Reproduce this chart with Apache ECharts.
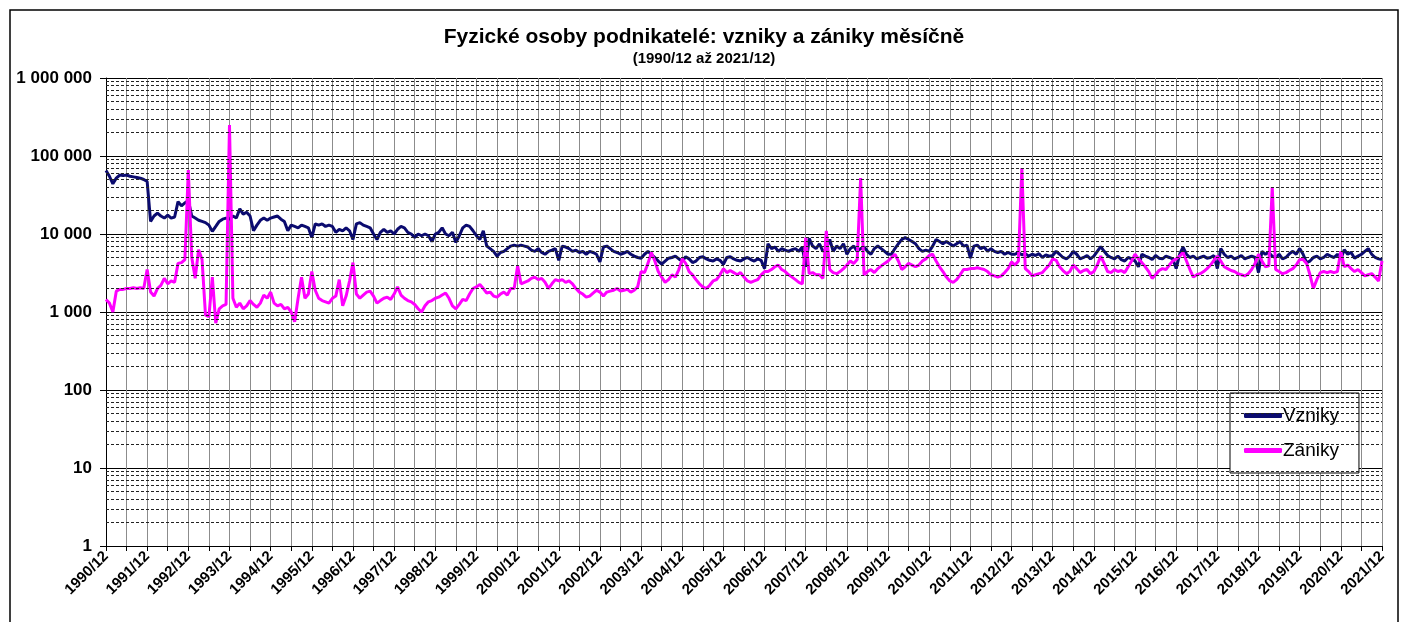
<!DOCTYPE html>
<html lang="cs">
  <head>
    <meta charset="UTF-8" />
    <title>Fyzické osoby podnikatelé: vzniky a zániky měsíčně</title>
    <script src="https://cdn.jsdelivr.net/npm/echarts@6.0.0/dist/echarts.min.js"></script>
    <style>
      html, body { margin: 0; padding: 0; background: #fff; }
    </style>
  </head>
  <body>
    <div id="main" style="width: 1408px; height: 622px"></div>
    <script type="text/javascript">
      // měsíční hodnoty od 1990/12 do 2021/12 (první hodnota = 1990/12, pak řádky po rocích)
      const vzniky = [
        65000,
        55000, 44000, 52000, 57000, 56000, 57000, 55000, 54000, 53000, 52000, 50000, 47000, // 1991
        14500, 17000, 18500, 17000, 16000, 17500, 16000, 16500, 26000, 23000, 25000, 27000, // 1992
        17000, 16000, 15000, 14500, 14000, 13000, 10800, 12500, 14500, 15500, 16000, 15500, // 1993
        17000, 16000, 21000, 18000, 19000, 17000, 11000, 13000, 15000, 16000, 15000, 16000, // 1994
        16500, 17000, 15500, 14500, 11000, 13000, 12500, 12000, 13000, 12500, 12000, 9000, // 1995
        13500, 13000, 13500, 12500, 13000, 12500, 10500, 11500, 11000, 12000, 11000, 8500, // 1996
        13500, 14000, 13000, 12500, 12000, 10000, 8500, 10500, 11500, 10500, 11000, 10000, // 1997
        11500, 12500, 12000, 10500, 10000, 9000, 10000, 9500, 10000, 9500, 8000, 10000, // 1998
        10500, 12000, 10000, 9500, 10500, 7800, 9500, 12000, 13000, 12500, 11000, 9500, // 1999
        8500, 11000, 7000, 6500, 6000, 5200, 5800, 6000, 6500, 7000, 7200, 7000, // 2000
        7200, 7000, 6800, 6200, 6000, 6500, 5800, 5500, 6000, 6200, 6500, 4600, // 2001
        7000, 6800, 6500, 6000, 6200, 5800, 6000, 5500, 6000, 5800, 5500, 4400, // 2002
        6800, 7000, 6500, 6000, 5800, 5500, 5700, 6000, 5500, 5200, 5000, 4900, // 2003
        5500, 6000, 5500, 5000, 4500, 4100, 4500, 4900, 5000, 5200, 4800, 4500, // 2004
        5100, 4800, 4300, 4500, 5000, 5100, 4800, 4600, 4500, 4800, 4600, 4100, // 2005
        5000, 5100, 4800, 4600, 4500, 4800, 5000, 4700, 4500, 4800, 4600, 3600, // 2006
        7500, 6500, 6800, 6000, 6500, 6200, 6000, 6300, 6500, 6000, 6800, 3800, // 2007
        8800, 7000, 6500, 7500, 6000, 6500, 8500, 6000, 7000, 6500, 7500, 5500, // 2008
        6500, 7000, 6000, 6500, 6800, 6000, 5500, 6500, 7000, 6500, 6000, 5500, // 2009
        5500, 6500, 7500, 8500, 9000, 8500, 8000, 7500, 6500, 6000, 6200, 6000, // 2010
        7000, 8500, 8000, 7500, 8000, 7500, 7000, 7500, 8000, 7000, 7200, 4900, // 2011
        7000, 7200, 6500, 6800, 6000, 6500, 6000, 5800, 6000, 5500, 5800, 5500, // 2012
        5500, 5800, 5400, 5600, 5200, 5500, 5300, 5600, 5000, 5400, 5200, 5300, // 2013
        6000, 5500, 5000, 4800, 5200, 6000, 5500, 4800, 5000, 5300, 4800, 5200, // 2014
        6000, 6900, 6000, 5300, 5000, 4800, 5200, 4700, 4500, 5000, 4800, 4500, // 2015
        3800, 5500, 5200, 5000, 4700, 5300, 4900, 4800, 5200, 5000, 4800, 3600, // 2016
        5500, 6800, 5500, 5000, 5200, 4800, 5000, 5200, 4900, 5000, 5300, 3600, // 2017
        6500, 5500, 5000, 5200, 4800, 5000, 5300, 4800, 5000, 5200, 5000, 3200, // 2018
        6000, 5500, 5800, 5200, 5000, 5500, 4800, 5000, 5600, 6000, 5500, 6500, // 2019
        5500, 4300, 4500, 5000, 5200, 4800, 5000, 5500, 5200, 5000, 5500, 4800, // 2020
        6300, 5500, 5800, 4900, 5200, 5500, 6000, 6500, 5500, 5000, 4800, 4700  // 2021
      ];

      const zaniky = [
        1450,
        1300, 1000, 1850, 1950, 1950, 2000, 2000, 2050, 2000, 2050, 2000, 3500, // 1991
        1800, 1600, 2000, 2200, 2700, 2300, 2500, 2400, 4200, 4300, 4700, 66000, // 1992
        5000, 2700, 6300, 4700, 920, 870, 2800, 720, 1100, 1200, 1250, 250000, // 1993
        1500, 1150, 1300, 1100, 1200, 1400, 1250, 1150, 1300, 1650, 1500, 1800, // 1994
        1300, 1200, 1250, 1100, 1150, 1000, 750, 1500, 2800, 1500, 1700, 3300, // 1995
        1900, 1500, 1400, 1350, 1300, 1500, 1600, 2600, 1200, 1600, 2500, 4300, // 1996
        1700, 1500, 1650, 1800, 1850, 1600, 1300, 1400, 1500, 1550, 1450, 1700, // 1997
        2100, 1650, 1500, 1400, 1350, 1250, 1100, 1000, 1200, 1350, 1400, 1500, // 1998
        1550, 1650, 1750, 1500, 1200, 1100, 1250, 1450, 1400, 1700, 2000, 2100, // 1999
        2250, 2000, 1750, 1800, 1600, 1550, 1700, 1800, 1650, 2000, 2000, 3900, // 2000
        2300, 2400, 2500, 2700, 2800, 2600, 2700, 2400, 2000, 2300, 2600, 2500, // 2001
        2600, 2400, 2500, 2300, 2000, 1800, 1700, 1550, 1600, 1750, 1900, 1800, // 2002
        1600, 1800, 1850, 1900, 2000, 1850, 1900, 1950, 1800, 1900, 2100, 3300, // 2003
        3200, 4200, 5800, 4500, 3300, 2800, 2400, 2600, 3000, 2800, 3500, 4800, // 2004
        4200, 3300, 3000, 2600, 2300, 2100, 2000, 2200, 2500, 2600, 3000, 3600, // 2005
        3200, 3400, 3200, 3000, 3200, 2800, 2500, 2400, 2500, 2600, 3000, 3300, // 2006
        3300, 3500, 3800, 4000, 3500, 3300, 3000, 2800, 2600, 2400, 2300, 9000, // 2007
        3100, 3200, 3000, 3000, 2700, 11000, 3500, 3200, 3100, 3300, 3600, 4000, // 2008
        4500, 4200, 4700, 52000, 3000, 3300, 3500, 3200, 3600, 3900, 4200, 4500, // 2009
        5000, 5500, 4500, 3500, 3800, 4200, 4000, 3800, 4000, 4500, 4800, 5300, // 2010
        5500, 4500, 3800, 3300, 2800, 2500, 2400, 2600, 3000, 3500, 3500, 3600, // 2011
        3600, 3700, 3600, 3500, 3300, 3000, 2900, 2800, 2900, 3200, 3600, 4400, // 2012
        4000, 4500, 70000, 3600, 3300, 2900, 3000, 3100, 3200, 3600, 4000, 4800, // 2013
        4600, 3800, 3400, 3100, 3300, 4000, 3600, 3200, 3400, 3500, 3100, 3300, // 2014
        4000, 5200, 4200, 3300, 3200, 3500, 3300, 3400, 3200, 3800, 4500, 5500, // 2015
        4800, 4300, 3800, 3300, 2700, 3000, 3400, 3600, 3500, 4000, 4500, 4800, // 2016
        5200, 5800, 4500, 3500, 2800, 3000, 3100, 3300, 3600, 4000, 4600, 5200, // 2017
        4500, 3800, 3600, 3400, 3300, 3100, 3000, 2900, 3100, 3500, 4200, 5500, // 2018
        4500, 3800, 3900, 40000, 3500, 3300, 3100, 3200, 3400, 3600, 4000, 4700, // 2019
        4700, 4200, 3000, 2000, 2600, 3200, 3300, 3200, 3300, 3200, 3300, 6000, // 2020
        3800, 4000, 3600, 3300, 3500, 3200, 2900, 3000, 3100, 2800, 2500, 4500  // 2021
      ];

      // popisky osy x: 1990/12 ... 2021/12
      const months = [];
      for (let y = 1990; y <= 2021; y++) {
        for (let m = 1; m <= 12; m++) {
          if (y === 1990 && m < 12) continue;
          months.push(y + '/' + String(m).padStart(2, '0'));
        }
      }

      // vedlejší mřížka 2..9 v každé dekádě
      const minorLines = [];
      for (let p = 1; p < 1000000; p *= 10) {
        for (let k = 2; k <= 9; k++) minorLines.push({ yAxis: k * p });
      }

      const chart = echarts.init(document.getElementById('main'), null, {
        width: 1408,
        height: 622,
      });

      const font = 'Liberation Sans, Arial, sans-serif';
      const every = (n) => (idx) => idx % n === 0;

      chart.setOption({
        animation: false,
        backgroundColor: '#fff',
        textStyle: { fontFamily: font },
        title: {
          text: 'Fyzické osoby podnikatelé: vzniky a zániky měsíčně',
          subtext: '(1990/12 až 2021/12)',
          left: 'center',
          top: 22,
          itemGap: 3,
          textStyle: { fontSize: 21, fontWeight: 'bold', color: '#000', fontFamily: font },
          subtextStyle: { fontSize: 15, fontWeight: 'bold', color: '#000', fontFamily: font },
        },
        graphic: [
          {
            type: 'rect',
            shape: { x: 10, y: 10, width: 1388, height: 630 },
            style: { fill: 'none', stroke: '#000', lineWidth: 1.5 },
            silent: true,
          },
        ],
        legend: {
          data: ['Vzniky', 'Zániky'],
          orient: 'vertical',
          left: 1230,
          top: 393,
          padding: [13, 20, 13, 14],
          itemGap: 16,
          itemWidth: 38,
          itemHeight: 5,
          icon: 'roundRect',
          backgroundColor: '#fff',
          borderColor: '#000',
          borderWidth: 1,
          textStyle: { fontSize: 19, color: '#000', fontFamily: font, padding: [0, 0, 0, -4] },
        },
        grid: { left: 106, right: 26, top: 78, bottom: 76, containLabel: false },
        xAxis: {
          type: 'category',
          data: months,
          boundaryGap: false,
          axisLine: { lineStyle: { color: '#000', width: 1 } },
          axisTick: { interval: every(6), length: 5, lineStyle: { color: '#000' } },
          axisLabel: {
            interval: every(12),
            rotate: 45,
            fontSize: 15,
            fontWeight: 'bold',
            color: '#000',
            margin: 8,
            fontFamily: font,
          },
          splitLine: { show: true, interval: every(6), lineStyle: { color: '#8c8c8c', width: 1 } },
        },
        yAxis: {
          type: 'log',
          logBase: 10,
          min: 1,
          max: 1000000,
          splitNumber: 6,
          axisLine: { show: true, lineStyle: { color: '#000' } },
          axisTick: { show: true, length: 6, lineStyle: { color: '#000' } },
          axisLabel: {
            fontSize: 17,
            fontWeight: 'bold',
            color: '#000',
            margin: 14,
            fontFamily: font,
            formatter: (v) => String(Math.round(v)).replace(/\B(?=(\d{3})+(?!\d))/g, ' '),
          },
          splitLine: { show: true, lineStyle: { color: '#000', width: 1 } },
        },
        series: [
          {
            name: 'mrizka',
            type: 'line',
            data: [],
            silent: true,
            z: 1,
            markLine: {
              silent: true,
              symbol: 'none',
              label: { show: false },
              animation: false,
              lineStyle: { color: '#222', width: 1, type: [3, 2] },
              data: minorLines,
            },
          },
          {
            name: 'Vzniky',
            type: 'line',
            data: vzniky,
            showSymbol: false,
            z: 3,
            lineStyle: { color: '#0b0b6f', width: 3 },
            itemStyle: { color: '#0b0b6f' },
          },
          {
            name: 'Zániky',
            type: 'line',
            data: zaniky,
            showSymbol: false,
            z: 4,
            lineStyle: { color: '#ff00ff', width: 3 },
            itemStyle: { color: '#ff00ff' },
          },
        ],
      });
    </script>
  </body>
</html>
